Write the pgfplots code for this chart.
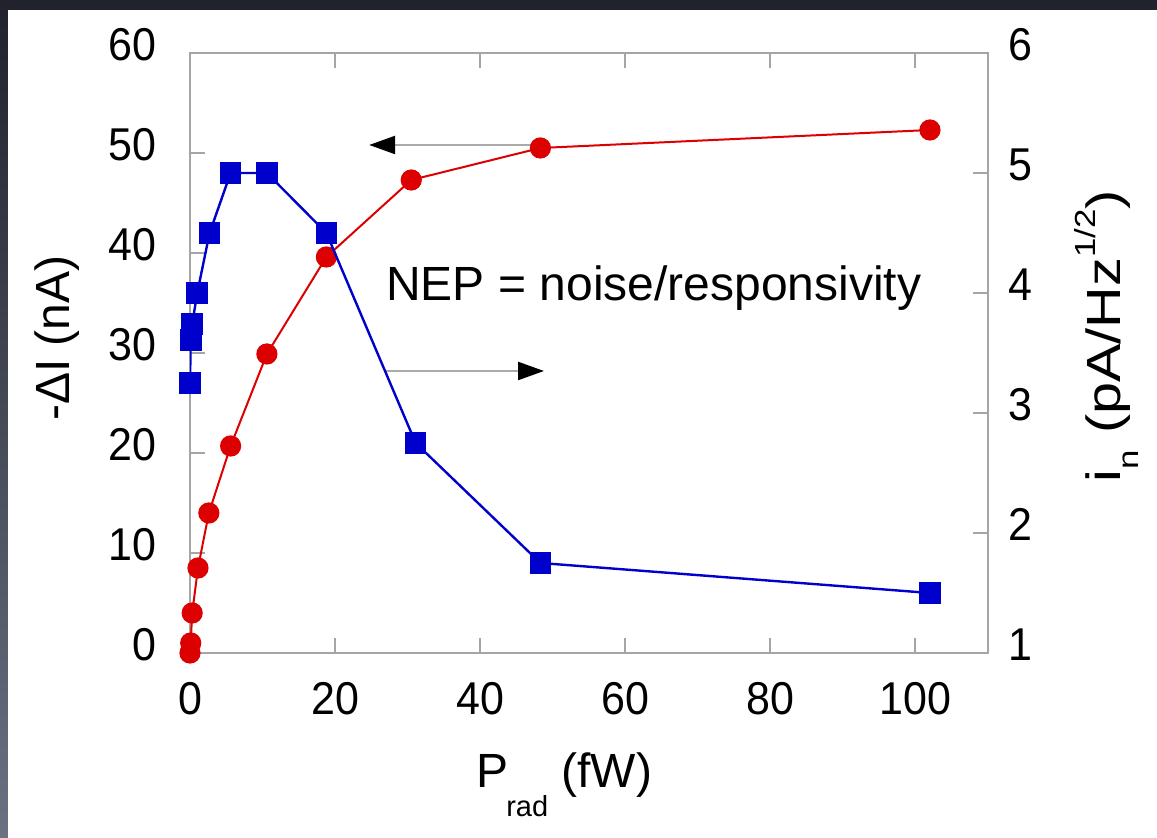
\documentclass[border=0pt]{standalone}
\usepackage{pgfplots}
\pgfplotsset{compat=1.18}
\usepackage{fontspec}
\setmainfont{Liberation Sans}
\usetikzlibrary{arrows.meta}
\definecolor{myred}{RGB}{221,0,0}
\definecolor{myblue}{RGB}{0,0,204}
\definecolor{axgray}{RGB}{165,165,165}
\definecolor{argray}{RGB}{170,170,170}
\definecolor{bgtop}{RGB}{32,35,45}
\definecolor{bgbot}{RGB}{107,113,130}
\begin{document}
\begin{tikzpicture}
\shade[top color=bgtop, bottom color=bgbot] (-95pt,-92.5pt) rectangle (483.5pt,326.5pt);
\fill[white] (-91pt,-92.5pt) rectangle (483.5pt,321.5pt);
\pgfplotsset{every axis/.append style={
  scale only axis, width=399pt, height=300pt, at={(0pt,0pt)}, anchor=south west,
  xmin=0, xmax=110,
  axis line style={axgray, line width=1pt},
  major tick style={axgray, line width=1pt},
  major tick length=7.5pt, tick align=inside,
  /pgf/number format/assume math mode=true,
  tick label style={font=\fontsize{21.5}{26}\selectfont, yscale=1.07},
}}
\begin{axis}[
  ymin=0, ymax=60, ytick={0,10,...,60}, xtick={0,20,...,100},
  xtick pos=both, xticklabel pos=lower, ytick pos=left,
  yticklabel style={inner sep=0pt, xshift=-16.5pt, yshift=4pt},
  xticklabel style={inner sep=0pt, yshift=-13.5pt},
  xlabel={P\kern-1pt\raisebox{-14.5pt}{\fontsize{14.5}{16}\selectfont rad} (fW)},
  xlabel style={at={(axis description cs:0.469,-0.225)}, anchor=base, inner sep=0pt, font=\fontsize{24}{28}\selectfont},
  ylabel={-ΔI (nA)},
  ylabel style={at={(axis description cs:-0.1504,0.525)}, anchor=base, inner sep=0pt, font=\fontsize{24}{28}\selectfont},
]
\addplot[myred, line width=1pt, mark=*, mark size=4.8pt, mark options={fill=myred, draw=myred}] coordinates {
(0,0) (0.1,1.0) (0.3,4.0) (1.1,8.5) (2.6,14.0) (5.6,20.7) (10.6,29.9) (18.8,39.6) (30.5,47.3) (48.3,50.5) (102,52.3)
};
\draw[argray, line width=1.2pt, -{Triangle[length=13pt,width=9pt,black]}] (axis cs:48.0,50.8) -- (axis cs:24.7,50.8);
\draw[argray, line width=1.2pt, -{Triangle[length=13pt,width=9pt,black]}] (axis cs:27.0,28.2) -- (axis cs:48.8,28.2);
\node[anchor=base west, inner sep=0pt, font=\fontsize{24}{28}\selectfont] at (axis cs:27.0,35.2) {NEP = noise/responsivity};
\end{axis}
\begin{axis}[
  ymin=1, ymax=6, ytick={1,2,...,6},
  axis x line=none, axis y line*=right, ytick pos=right,
  yticklabel style={inner sep=0pt, xshift=10pt, yshift=4pt},
  ylabel={i\raisebox{-9pt}{\fontsize{14.5}{16}\selectfont n} (pA/Hz\raisebox{12.5pt}{\fontsize{14.5}{16}\selectfont 1/2})},
  ylabel style={at={(axis description cs:1.166,0.528)}, anchor=base, inner sep=0pt, font=\fontsize{24}{28}\selectfont, xscale=1.2},
]
\addplot[myblue, line width=1.2pt, mark=square*, mark size=4.8pt, mark options={fill=myblue, draw=myblue}] coordinates {
(0,3.25) (0.1,3.61) (0.3,3.74) (1.0,4.0) (2.7,4.5) (5.6,5.0) (10.6,5.0) (18.8,4.5) (31.1,2.75) (48.3,1.75) (102,1.5)
};
\end{axis}
\pgfresetboundingbox
\path[use as bounding box] (-95pt,-92.5pt) rectangle (483.5pt,326.5pt);
\end{tikzpicture}
\end{document}
